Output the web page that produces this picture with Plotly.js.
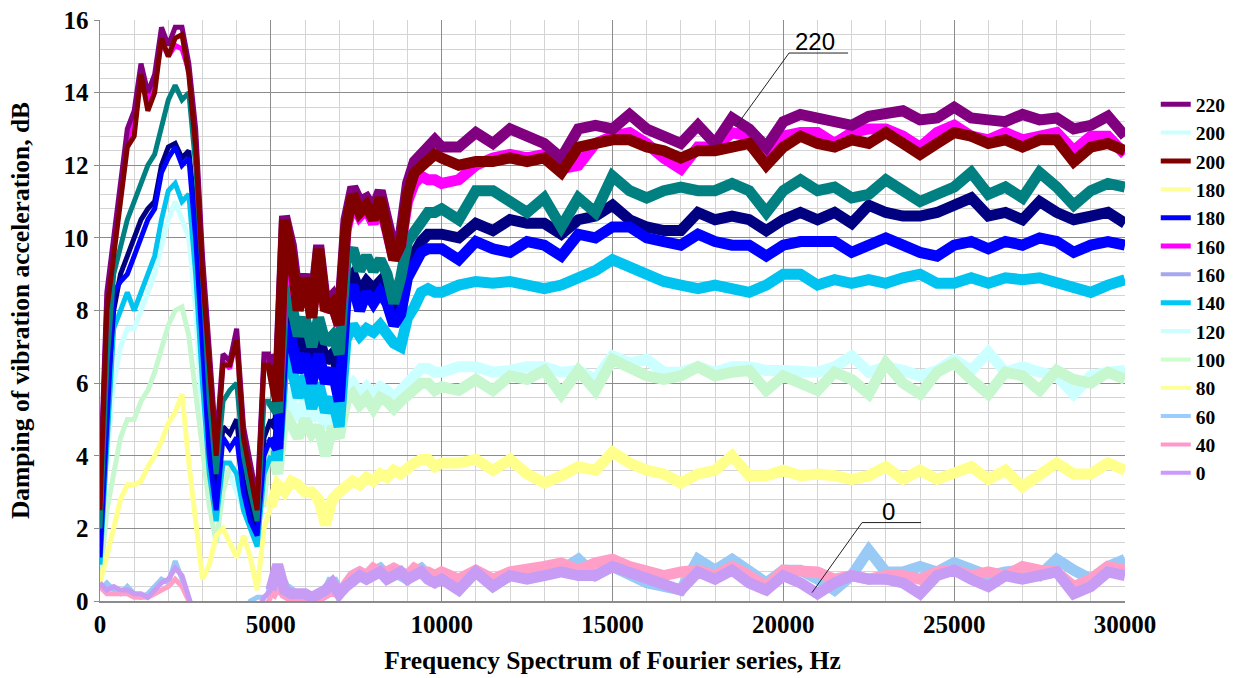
<!DOCTYPE html>
<html>
<head>
<meta charset="utf-8">
<script src="https://cdn.plot.ly/plotly-3.0.1.min.js"></script>
<style>html,body{margin:0;padding:0;background:#fff;}#chart{width:1255px;height:678px;}</style>
</head>
<body>
<div id="chart"></div>
<script>
// Frequency grid (Hz)
var freq = [0,200,400,600,800,1000,1200,1400,1600,1800,2000,2200,2400,2600,2800,3000,3200,3400,3600,3800,4000,4200,4400,4600,4800,5000,
5200,5400,5600,5800,6000,6200,6400,6600,6800,7000,7200,7400,7600,7800,8000,8200,8400,8600,8800,9000,9200,9400,9600,9800,10000,
10500,11000,11500,12000,12500,13000,13500,14000,14500,15000,15500,16000,16500,17000,17500,18000,18500,19000,19500,20000,
20500,21000,21500,22000,22500,23000,23500,24000,24500,25000,25500,26000,26500,27000,27500,28000,28500,29000,29500,30000];

// Damping of vibration acceleration, dB (one array per curve)
var s220 = [3.0,8.5,10.0,11.5,13.0,13.5,14.8,14.0,14.5,15.8,15.3,15.8,15.8,14.8,13.0,9.5,6.8,4.3,6.8,6.6,7.5,4.8,3.8,2.8,6.8,6.8,
5.8,10.6,9.8,8.3,9.0,8.0,9.8,8.2,8.4,7.8,10.5,11.4,11.0,11.1,10.8,11.3,10.6,9.7,10.1,11.5,12.1,12.3,12.6,12.7,12.5,
12.5,12.9,12.6,13.0,12.8,12.6,12.2,13.0,13.1,13.0,13.4,13.0,12.8,12.6,13.1,12.6,13.3,13.0,12.5,13.2,
13.4,13.3,13.2,13.1,13.35,13.4,13.5,13.25,13.3,13.6,13.3,13.25,13.2,13.4,13.25,13.3,13.0,13.1,13.35,12.8];
var s200a = [2.5,8.0,9.5,11.0,12.5,12.8,14.5,13.5,14.0,15.5,15.0,15.5,15.6,14.5,12.5,9.0,6.5,4.0,6.5,6.5,7.2,4.5,3.5,2.5,6.5,6.5,
5.5,10.5,9.5,8.0,8.9,7.8,9.7,8.0,8.2,7.6,10.3,11.2,10.7,10.9,10.5,11.1,10.3,9.4,9.8,11.2,11.8,12.0,12.2,12.3,12.2,
12.0,12.1,12.1,12.2,12.1,12.2,11.8,12.5,12.6,12.7,12.7,12.5,12.4,12.2,12.4,12.4,12.5,12.6,12.0,12.5,
12.8,12.6,12.5,12.7,12.6,12.9,12.6,12.3,12.6,12.9,12.8,12.6,12.7,12.5,12.7,12.7,12.1,12.5,12.6,12.4];
var s160 = [2.7,8.2,9.7,11.2,12.7,13.2,14.6,13.8,14.3,15.4,15.0,15.3,15.2,14.6,12.7,9.2,6.6,4.1,6.6,6.4,7.3,4.6,3.6,2.6,6.6,6.6,
5.6,10.0,9.2,8.1,8.8,7.9,9.5,8.0,8.2,7.6,10.2,11.0,10.6,10.8,10.4,10.9,10.2,9.4,9.8,11.0,11.5,11.7,11.6,11.6,11.5,
11.6,12.0,12.2,12.3,12.2,12.3,11.9,12.0,12.6,12.8,12.9,12.6,12.2,11.9,12.5,12.5,12.9,12.8,12.4,12.8,
12.9,12.9,12.6,12.9,13.0,13.0,12.8,12.5,12.9,13.1,12.8,12.7,12.9,12.7,12.8,12.9,12.4,12.8,12.8,12.3];
var s200b = [2.0,6.5,9.0,9.8,10.5,11.0,11.5,12.0,12.3,13.0,13.8,14.2,13.8,14.0,12.0,9.0,5.5,3.5,5.5,5.8,6.0,4.0,3.0,2.2,5.5,5.5,
5.2,8.65,8.2,7.3,7.8,7.0,7.8,7.1,7.3,6.8,9.4,9.7,9.1,9.5,9.1,9.4,9.0,8.2,8.9,9.9,10.2,10.5,10.7,10.7,10.8,
10.5,11.3,11.3,11.0,10.7,11.1,10.3,11.1,10.7,11.7,11.3,11.1,11.3,11.4,11.3,11.3,11.5,11.3,10.7,11.3,
11.6,11.3,11.4,11.1,11.2,11.6,11.3,11.0,11.2,11.4,11.8,11.2,11.4,11.1,11.8,11.4,10.9,11.3,11.5,11.4];
var s180b = [1.5,5.5,8.0,9.0,9.5,10.0,10.5,10.8,11.0,12.0,12.5,12.6,12.2,12.4,10.5,7.5,4.5,2.8,4.8,4.6,5.0,3.3,2.5,2.0,4.5,5.0,
4.8,8.0,7.6,6.9,7.2,6.6,7.3,6.6,6.8,6.3,8.8,9.0,8.5,8.8,8.6,8.8,8.5,7.9,8.3,9.2,9.6,9.9,10.1,10.1,10.1,
10.0,10.4,10.2,10.5,10.4,10.4,10.1,10.5,10.6,10.9,10.5,10.3,10.2,10.2,10.7,10.5,10.6,10.5,10.2,10.5,
10.7,10.5,10.7,10.4,10.9,10.7,10.6,10.6,10.7,10.9,11.1,10.6,10.7,10.5,11.0,10.7,10.5,10.6,10.7,10.4];
var s180a = [1.2,5.0,8.5,8.8,9.0,9.5,10.0,10.5,10.8,11.8,12.2,12.5,12.0,12.2,10.0,7.0,4.0,2.5,4.5,4.2,4.5,3.0,2.2,1.8,4.0,4.5,
4.2,7.6,7.2,6.3,6.8,6.0,6.8,6.0,6.4,5.5,8.3,8.7,8.0,8.5,8.2,8.5,8.2,7.6,7.9,8.9,9.3,9.6,9.7,9.7,9.7,
9.4,9.9,9.7,9.6,9.9,9.8,9.5,10.1,10.0,10.3,10.3,10.0,9.9,9.8,10.1,9.9,9.8,9.8,9.5,9.8,
9.9,9.9,9.9,9.6,9.8,10.0,9.8,9.6,9.5,9.8,9.9,9.7,9.9,9.8,10.0,9.9,9.6,9.8,9.9,9.8];
var s140 = [1.0,4.5,7.5,8.0,8.5,8.0,8.5,9.0,9.5,10.5,11.3,11.5,11.0,11.2,9.0,6.0,3.5,2.2,3.8,3.8,3.5,2.5,2.0,1.5,3.5,4.0,
4.0,6.8,6.5,5.6,6.2,5.3,6.0,5.2,5.6,4.8,7.2,7.6,7.3,7.5,7.4,7.6,7.3,7.1,7.0,7.8,8.1,8.5,8.6,8.5,8.5,
8.7,8.8,8.75,8.8,8.7,8.6,8.7,8.9,9.1,9.4,9.2,9.0,8.8,8.7,8.6,8.7,8.6,8.5,8.7,9.0,
9.0,8.7,8.85,8.75,8.85,8.75,8.9,9.0,8.75,8.75,8.9,8.75,8.9,8.85,8.9,8.75,8.6,8.5,8.7,8.85];
var s120 = [1.0,4.0,6.0,7.0,7.5,7.5,8.0,8.5,9.0,9.8,10.5,11.0,10.5,10.0,8.0,5.0,3.0,2.5,3.5,3.5,3.0,2.5,2.5,2.0,3.5,4.5,
4.0,5.8,5.5,5.0,5.5,5.0,5.3,4.8,5.2,4.8,5.8,6.0,5.7,5.9,5.7,5.9,5.8,5.6,5.8,6.1,6.3,6.4,6.4,6.3,6.3,
6.45,6.45,6.3,6.35,6.45,6.45,6.3,6.35,6.1,6.75,6.55,6.65,6.3,6.3,6.45,6.3,6.45,6.45,6.35,6.35,
6.35,6.3,6.45,6.75,6.3,6.45,6.35,6.2,6.35,6.65,6.35,6.85,6.3,6.45,6.3,6.2,5.7,6.2,6.3,6.35];
var s100 = [0.5,2.5,3.5,4.5,5.0,5.0,5.5,5.8,6.3,7.0,7.6,8.0,8.1,7.3,5.8,4.2,2.6,1.6,3.0,3.7,3.6,3.3,3.2,2.8,2.6,4.5,
3.5,5.2,4.8,4.5,5.0,4.6,4.8,4.0,4.8,4.5,5.5,5.7,5.4,5.6,5.3,5.6,5.5,5.3,5.5,5.7,5.8,6.0,6.0,5.8,5.9,
5.8,6.1,5.8,6.2,6.1,6.35,5.7,6.35,5.8,6.65,6.45,6.2,6.1,6.2,6.45,6.2,6.3,6.35,5.8,6.2,
6.0,5.8,6.3,6.1,5.7,6.55,6.0,5.7,6.3,6.55,6.1,5.7,6.3,6.2,5.8,6.35,6.1,6.0,6.3,6.1];
var s80 = [0.5,1.2,2.0,2.8,3.2,3.2,3.3,3.7,4.0,4.4,4.9,5.2,5.7,3.8,2.2,0.6,1.0,1.8,2.0,1.6,1.2,1.8,1.2,0.3,2.0,2.6,
3.2,3.0,3.3,3.2,3.0,3.0,2.8,2.1,2.8,3.0,3.2,3.3,3.2,3.4,3.3,3.5,3.4,3.6,3.5,3.7,3.8,3.9,3.9,3.7,3.8,
3.8,3.9,3.6,3.9,3.5,3.25,3.45,3.7,3.6,4.1,3.8,3.6,3.5,3.25,3.5,3.6,4.0,3.45,3.45,3.6,
3.45,3.5,3.45,3.35,3.45,3.7,3.35,3.6,3.35,3.5,3.7,3.35,3.6,3.15,3.5,3.8,3.5,3.5,3.8,3.6];
var s60 = [0.3,0.5,0.3,0.2,0.4,0.2,0.1,0.2,0.4,0.6,0.5,1.1,0.6,0.1,-0.5,-0.5,-0.5,-0.5,-0.5,-0.5,-0.5,-0.5,0.0,0.1,0.1,0.2,
0.8,0.4,0.2,0.1,0.1,0.1,0.1,0.2,0.6,0.2,0.5,0.7,0.8,0.7,0.8,0.9,0.7,0.8,0.7,0.6,0.8,0.9,0.7,0.6,0.7,
0.5,0.8,0.4,0.7,0.7,0.8,0.85,1.15,0.7,0.95,0.7,0.5,0.4,0.3,1.15,0.85,1.15,0.85,0.5,0.85,
0.85,0.6,0.3,0.7,1.4,0.8,0.8,0.95,0.8,1.05,0.85,0.7,0.8,0.85,0.7,1.15,0.85,0.6,0.95,1.15];
var s40 = [0.4,0.2,0.2,0.2,0.2,0.1,0.1,0.1,0.2,0.3,0.4,0.6,0.4,0.0,-0.5,-0.5,-0.5,-0.5,-0.5,-0.5,-0.5,-0.5,-0.5,-0.5,-0.2,0.1,
0.5,0.2,0.1,0.1,0.1,0.1,0.1,0.2,0.3,0.2,0.5,0.7,0.8,0.7,0.9,0.8,0.8,0.9,0.8,0.7,0.9,0.8,0.8,0.7,0.8,
0.6,0.85,0.6,0.8,0.85,0.95,1.05,0.85,1.05,1.15,0.95,0.8,0.7,0.8,0.85,0.7,0.95,0.7,0.4,0.85,
0.8,0.8,0.6,0.7,0.6,0.7,0.7,0.6,0.8,0.85,0.7,0.8,0.7,0.95,0.85,0.8,0.4,0.6,0.95,0.85];
var s0 = [0.5,0.3,0.4,0.3,0.3,0.2,0.2,0.1,0.3,0.5,0.6,0.9,0.7,0.1,-0.5,-0.5,-0.5,-0.5,-0.5,-0.5,-0.5,-0.5,-0.5,-0.3,0.1,0.3,
1.0,0.3,0.2,0.2,0.2,0.1,0.2,0.3,0.5,0.2,0.4,0.6,0.7,0.6,0.7,0.8,0.6,0.7,0.8,0.6,0.7,0.8,0.6,0.5,0.6,
0.3,0.8,0.4,0.7,0.6,0.7,0.8,0.7,0.7,0.95,0.8,0.6,0.5,0.3,0.8,0.6,0.85,0.5,0.3,0.7,
0.5,0.2,0.5,0.7,0.6,0.6,0.5,0.2,0.7,0.85,0.6,0.4,0.7,0.6,0.7,0.8,0.2,0.4,0.8,0.7];

// Legend labels and colours (as shown in the legend box)
var legendLabels = ['220','200','200','180','180','160','160','140','120','100','80','60','40','0'];
var legendColors = ['#800080','#ccffff','#800000','#ffff99','#0000ff','#ff00ff','#a6a6f2','#00c8f5','#ccffff','#ccffcc','#ffff99','#99ccff','#ff99cc','#cc99ff'];
var legendWidths = [5,4,5,4,5,5,4,5,4,4,4,4,4,4];

// Plotted curves: series, colour, drawing order bottom -> top
var curves = [
  [s120,'#ccffff'],[s100,'#c6f7cf'],[s80,'#ffff8c'],[s60,'#99c9f5'],[s40,'#ff9fc8'],[s0,'#c79cf5'],
  [s140,'#00c3f0'],[s180b,'#000080'],[s180a,'#0000ff'],[s200b,'#008080'],[s160,'#ff00ff'],[s220,'#800080'],[s200a,'#800000']
];

var SPLIT = 25; // index of 5000 Hz: thinner jagged trace below, wide noisy band above
var traces = [];
curves.forEach(function(c){
  traces.push({x: freq.slice(0, SPLIT+1), y: c[0].slice(0, SPLIT+1), type:'scatter', mode:'lines', showlegend:false, hoverinfo:'skip',
    line:{color:c[1], width:5, shape:'linear'}});
  traces.push({x: freq.slice(SPLIT), y: c[0].slice(SPLIT), type:'scatter', mode:'lines', showlegend:false, hoverinfo:'skip',
    line:{color:c[1], width:11, shape:'linear'}});
});
legendLabels.forEach(function(lbl,i){
  traces.push({x:[null], y:[null], type:'scatter', mode:'lines', name:lbl, showlegend:true,
    line:{color:legendColors[i], width:legendWidths[i]}});
});

var serif = 'Liberation Serif, Times New Roman, serif';
var layout = {
  width:1255, height:678,
  margin:{l:100, r:130, t:20, b:76.5},
  paper_bgcolor:'#ffffff', plot_bgcolor:'#ffffff',
  showlegend:true,
  legend:{x:1.03, xanchor:'left', y:0.888, yanchor:'top', bgcolor:'rgba(0,0,0,0)',
    font:{family:serif, size:19.5, color:'#000', weight:'bold'}, itemwidth:30, tracegroupgap:0},
  xaxis:{range:[0,30000], dtick:5000, tick0:0, showgrid:true, gridcolor:'#8c8c8c', gridwidth:1.2,
    minor:{dtick:1000, showgrid:true, gridcolor:'#d4d4d4', gridwidth:1},
    zeroline:false, showline:true, linecolor:'#8c8c8c', linewidth:1.5, ticks:'',
    tickfont:{family:serif, size:25, color:'#000', weight:'bold'}, tickformat:'d',
    title:{text:'Frequency Spectrum of Fourier series, Hz', standoff:14,
      font:{family:serif, size:25.5, color:'#000', weight:'bold'}}},
  yaxis:{range:[0,16], dtick:2, tick0:0, showgrid:true, gridcolor:'#8c8c8c', gridwidth:1.2,
    minor:{dtick:0.4, showgrid:true, gridcolor:'#d4d4d4', gridwidth:1},
    zeroline:false, showline:true, linecolor:'#8c8c8c', linewidth:1.5, ticks:'outside', ticklen:5, tickcolor:'#8c8c8c',
    tickfont:{family:serif, size:25, color:'#000', weight:'bold'},
    title:{text:'Damping of vibration acceleration, dB', standoff:26,
      font:{family:serif, size:25.5, color:'#000', weight:'bold'}}},
  shapes:[
    {type:'line', xref:'x', yref:'y', x0:20167, y0:15.09, x1:21894, y1:15.09, line:{color:'#222', width:1}},
    {type:'line', xref:'x', yref:'y', x0:20167, y0:15.09, x1:18645, y1:13.11, line:{color:'#222', width:1}},
    {type:'line', xref:'x', yref:'y', x0:22304, y0:2.16, x1:24031, y1:2.16, line:{color:'#222', width:1}},
    {type:'line', xref:'x', yref:'y', x0:22304, y0:2.16, x1:20840, y1:0.23, line:{color:'#222', width:1}}
  ],
  annotations:[
    {xref:'x', yref:'y', x:20928, y:15.40, text:'220', showarrow:false, font:{family:'Liberation Sans, Arial, sans-serif', size:24, color:'#000'}},
    {xref:'x', yref:'y', x:23065, y:2.46, text:'0', showarrow:false, font:{family:'Liberation Sans, Arial, sans-serif', size:24, color:'#000'}}
  ]
};

Plotly.newPlot('chart', traces, layout, {displayModeBar:false, staticPlot:true});
</script>
</body>
</html>
